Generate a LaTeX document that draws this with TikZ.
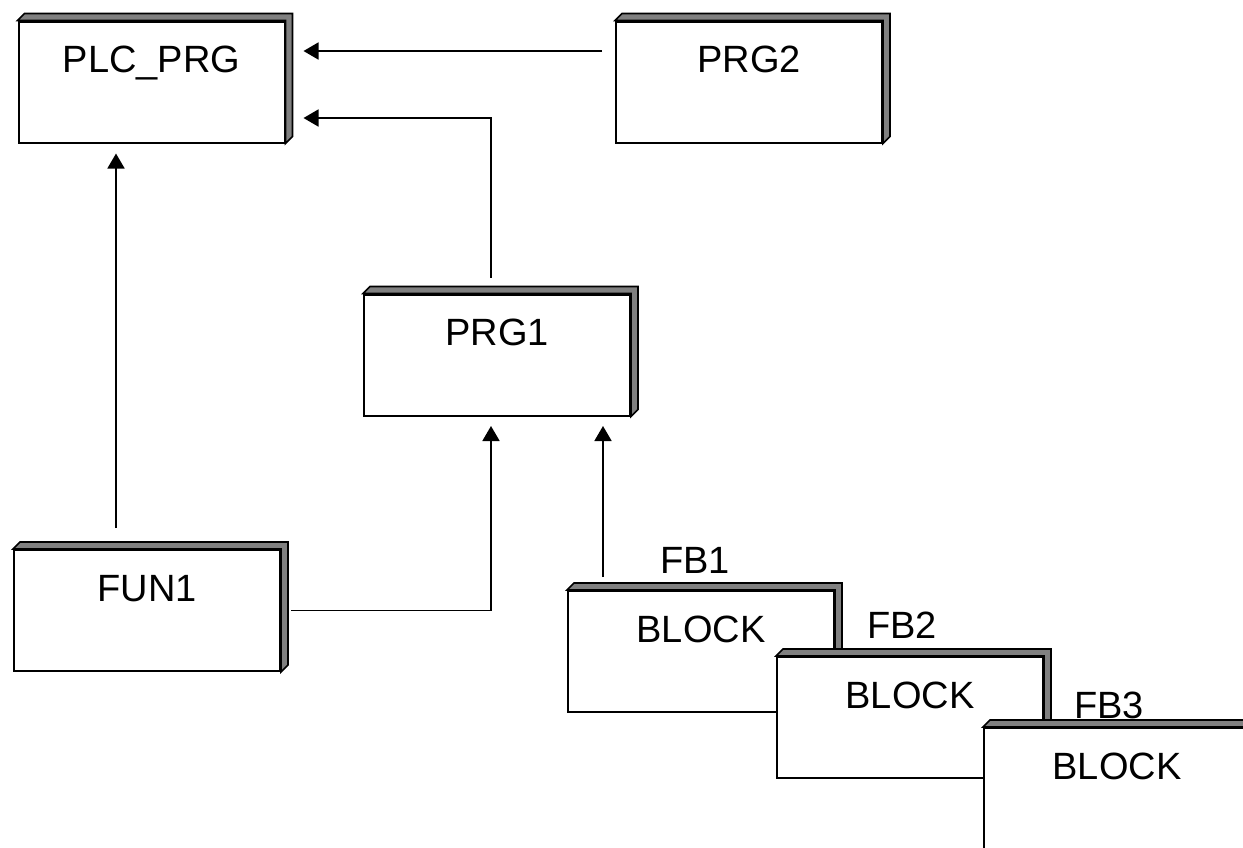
\documentclass[tikz,border=0pt]{standalone}
\usepackage{fontspec}
\setmainfont{Liberation Sans}
\usetikzlibrary{arrows.meta,positioning}

\tikzset{
    block/.style={draw, line width=1pt, fill=white, minimum width=133pt, minimum height=60.5pt,
        inner sep=0pt, text height=25.5pt, text depth=35pt, font=\fontsize{19}{22}\selectfont},
    instname/.style={anchor=base, inner sep=0pt, font=\fontsize{19}{22}\selectfont},
    side/.style={draw, line width=0.8pt, fill=black!50},
    link/.style={line width=0.9pt, -{Triangle[length=7.5pt,width=8.5pt]}}
}

% depth strips on top and right of a block
\newcommand{\depthstrip}[1]{%
    \draw[side] (#1.north west) -- ++(3.5pt,3.5pt) -- ([shift={(3.5pt,3.5pt)}]#1.north east)
        -- ([shift={(3.5pt,3.5pt)}]#1.south east) -- (#1.south east) -- (#1.north east) -- cycle;
}

\begin{document}
\begin{tikzpicture}[x=0.5pt, y=-0.5pt]
    \useasboundingbox (0,0) rectangle (1243,847);
    \clip (0,0) rectangle (1243,847);

    % Programs and function
    \node[block] (plc) at (151.5,82) {PLC\_PRG};
    \depthstrip{plc}
    \node[block] (prg2) at (749,82) {PRG2};
    \depthstrip{prg2}
    \node[block] (prg1) at (497,355) {PRG1};
    \depthstrip{prg1}
    \node[block] (fun1) at (147,610.5) {FUN1};
    \depthstrip{fun1}

    % Function block instances
    \node[block] (fb1) at (701,651.5) {BLOCK};
    \depthstrip{fb1}
    \node[instname] (fb1name) at (695,573) {FB1};
    \node[block] (fb2) at (910,717.5) {BLOCK};
    \depthstrip{fb2}
    \node[instname] (fb2name) at (902,638) {FB2};
    \node[block] (fb3) at (1117,788.5) {BLOCK};
    \depthstrip{fb3}
    \node[instname] (fb3name) at (1109,718) {FB3};

    % Calls
    \draw[link, shorten <=6.5pt, shorten >=9pt] ([yshift=15.5pt]prg2.west) -- ([yshift=15.5pt]plc.east);
    \draw[link, shorten <=8pt, shorten >=9pt] ([xshift=-3pt]prg1.north) |- ([yshift=-18pt]plc.east);
    \draw[link, shorten <=10.5pt, shorten >=5pt] ([xshift=-15.5pt]fun1.north) -- ([xshift=-15.5pt]fun1.north |- plc.south);
    \draw[link, shorten <=5pt, shorten >=4.75pt] (fun1.east) -| ([xshift=-3pt]prg1.south);
    \draw[link, shorten <=6.5pt, shorten >=4.75pt] ([xshift=-49pt]fb1.north) -- ([xshift=-49pt]fb1.north |- prg1.south);
\end{tikzpicture}
\end{document}
